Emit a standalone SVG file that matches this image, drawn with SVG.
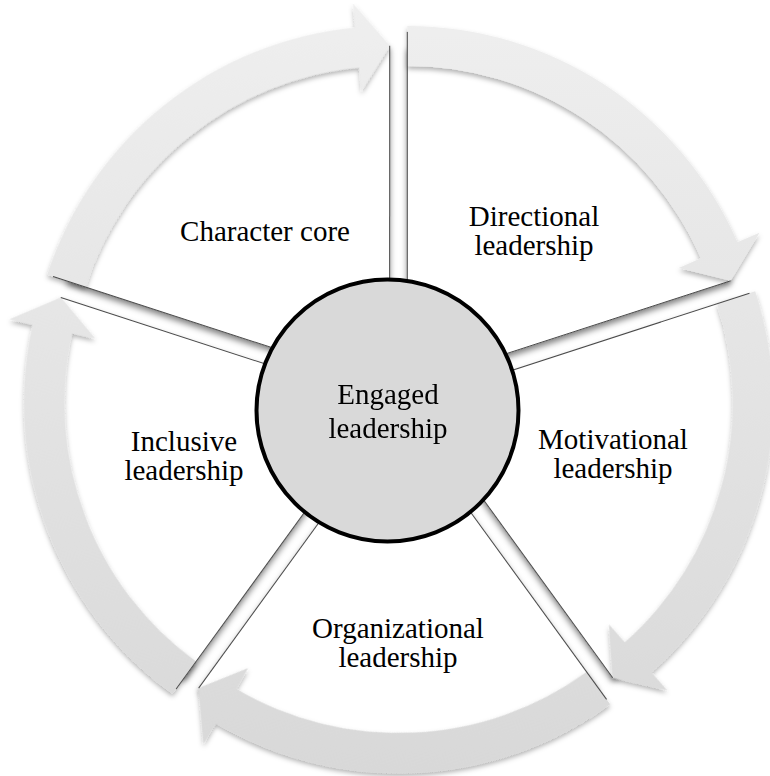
<svg xmlns="http://www.w3.org/2000/svg" width="770" height="776" viewBox="0 0 770 776">
<defs>
<style>
.lbl{font-family:"Liberation Serif","Times New Roman",serif;font-size:29px;fill:#000;text-anchor:middle}
.wedge{fill:#fff}
.spoke line{stroke:#4a4a4a;stroke-width:1;fill:none}
</style>
<filter id="wshadow" x="-20%" y="-20%" width="140%" height="140%">
<feDropShadow dx="0" dy="4" stdDeviation="3" flood-color="#000" flood-opacity="0.5"/>
</filter>
<filter id="ashadow" x="-10%" y="-10%" width="120%" height="120%">
<feDropShadow dx="0" dy="3" stdDeviation="2.5" flood-color="#000" flood-opacity="0.3"/>
</filter>
<linearGradient id="gbase" gradientUnits="userSpaceOnUse" x1="0" y1="0" x2="0" y2="776">
<stop offset="0" stop-color="#efefef"/>
<stop offset="1" stop-color="#d8d8d8"/>
</linearGradient>
<linearGradient id="g0" href="#gbase" gradientTransform="translate(-407.3,-385.9)"/>
<linearGradient id="g1" href="#gbase" gradientTransform="rotate(-72) translate(-412.8,-402.6)"/>
<linearGradient id="g2" href="#gbase" gradientTransform="rotate(-144) translate(-398.5,-413)"/>
<linearGradient id="g3" href="#gbase" gradientTransform="rotate(-216) translate(-384.2,-402.6)"/>
<linearGradient id="g4" href="#gbase" gradientTransform="rotate(-288) translate(-389.7,-385.9)"/>
<path id="arrow" d="M0,-360 A360,360 0 0 1 330.1,-143.6 L352.2,-153.1 L323.4,-105.1 L271.5,-118.0 L293.5,-127.6 A320,320 0 0 0 0,-320 Z"/>
<path id="wedgeShape" d="M0,0 L0,-340 A340,340 0 0 1 323.4,-105.1 Z"/>
</defs>
<rect width="770" height="776" fill="#fff"/>

<g id="node-directional">
<g filter="url(#wshadow)"><use class="wedge" href="#wedgeShape" transform="translate(407.3,385.9)"/></g>
<text class="lbl" x="534" y="226">Directional</text>
<text class="lbl" x="534" y="255">leadership</text>
</g>
<g id="node-motivational">
<g filter="url(#wshadow)"><use class="wedge" href="#wedgeShape" transform="translate(412.8,402.6) rotate(72)"/></g>
<text class="lbl" x="613" y="449">Motivational</text>
<text class="lbl" x="613" y="478">leadership</text>
</g>
<g id="node-organizational">
<g filter="url(#wshadow)"><use class="wedge" href="#wedgeShape" transform="translate(398.5,413) rotate(144)"/></g>
<text class="lbl" x="398" y="638">Organizational</text>
<text class="lbl" x="398" y="667">leadership</text>
</g>
<g id="node-inclusive">
<g filter="url(#wshadow)"><use class="wedge" href="#wedgeShape" transform="translate(384.2,402.6) rotate(216)"/></g>
<text class="lbl" x="184" y="451">Inclusive</text>
<text class="lbl" x="184" y="480">leadership</text>
</g>
<g id="node-character">
<g filter="url(#wshadow)"><use class="wedge" href="#wedgeShape" transform="translate(389.7,385.9) rotate(288)"/></g>
<text class="lbl" x="265" y="241">Character core</text>
</g>

<g id="connectors" filter="url(#ashadow)">
<use id="arrow-directional" href="#arrow" fill="url(#g0)" transform="translate(407.3,385.9)"/>
<use id="arrow-motivational" href="#arrow" fill="url(#g1)" transform="translate(412.8,402.6) rotate(72)"/>
<use id="arrow-organizational" href="#arrow" fill="url(#g2)" transform="translate(398.5,413) rotate(144)"/>
<use id="arrow-inclusive" href="#arrow" fill="url(#g3)" transform="translate(384.2,402.6) rotate(216)"/>
<use id="arrow-character" href="#arrow" fill="url(#g4)" transform="translate(389.7,385.9) rotate(288)"/>
</g>

<g id="spokes" class="spoke">
<g transform="translate(407.3,385.9)"><line x1="0" y1="-40" x2="0" y2="-354"/><line x1="38" y1="-12.4" x2="323.4" y2="-105.1"/></g>
<g transform="translate(412.8,402.6) rotate(72)"><line x1="0" y1="-40" x2="0" y2="-354"/><line x1="38" y1="-12.4" x2="323.4" y2="-105.1"/></g>
<g transform="translate(398.5,413) rotate(144)"><line x1="0" y1="-40" x2="0" y2="-354"/><line x1="38" y1="-12.4" x2="323.4" y2="-105.1"/></g>
<g transform="translate(384.2,402.6) rotate(216)"><line x1="0" y1="-40" x2="0" y2="-354"/><line x1="38" y1="-12.4" x2="323.4" y2="-105.1"/></g>
<g transform="translate(389.7,385.9) rotate(288)"><line x1="0" y1="-40" x2="0" y2="-354"/><line x1="38" y1="-12.4" x2="323.4" y2="-105.1"/></g>
</g>

<g id="node-engaged">
<circle cx="387.5" cy="410.5" r="131" fill="#d9d9d9" stroke="#000" stroke-width="4"/>
<text class="lbl" x="388" y="404">Engaged</text>
<text class="lbl" x="388" y="438">leadership</text>
</g>
</svg>
